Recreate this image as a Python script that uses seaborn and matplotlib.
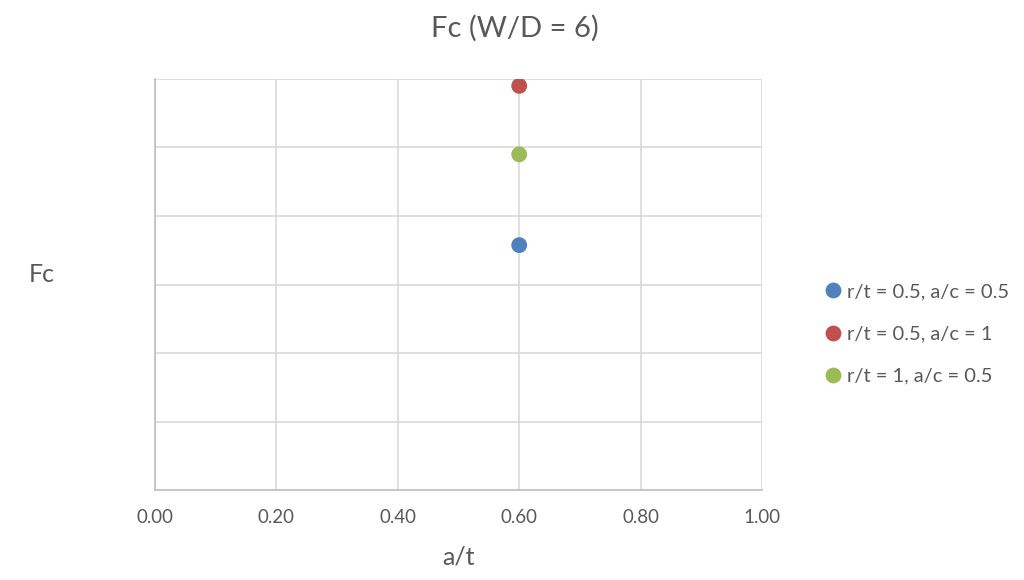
import matplotlib
matplotlib.use("Agg")
import matplotlib.pyplot as plt
import seaborn as sns
import pandas as pd
from matplotlib.ticker import MultipleLocator, FormatStrFormatter

# Data
series = ["r/t = 0.5, a/c = 0.5", "r/t = 0.5, a/c = 1", "r/t = 1, a/c = 0.5"]
a_over_t = [0.60, 0.60, 0.60]
fc_values = [0.715, 1.18, 0.98]
colors = ["#4F81BD", "#C0504D", "#9BBB59"]

df = pd.DataFrame({"a/t": a_over_t, "Fc": fc_values, "series": series})

sns.set_theme(style="white")
plt.rcParams["font.family"] = ["Lato", "DejaVu Sans"]

fig = plt.figure(figsize=(10.24, 5.8), dpi=100)
ax = fig.add_axes([155 / 1024, 1 - 490 / 580, (762 - 155) / 1024, (490 - 79) / 580])

sns.scatterplot(data=df, x="a/t", y="Fc", hue="series", hue_order=series,
                palette=colors, s=130, edgecolor="none", ax=ax, zorder=3,
                legend=True)

ax.set_xlim(0, 1.0)
ax.set_ylim(0, 1.2)
ax.xaxis.set_major_locator(MultipleLocator(0.2))
ax.xaxis.set_major_formatter(FormatStrFormatter("%.2f"))
ax.yaxis.set_major_locator(MultipleLocator(0.2))
ax.set_yticklabels([])
ax.grid(True, color="#D9D9D9", linewidth=1.2)
ax.set_axisbelow(True)

for side in ["top", "right"]:
    ax.spines[side].set_visible(False)
for side in ["left", "bottom"]:
    ax.spines[side].set_color("#BFBFBF")
    ax.spines[side].set_linewidth(1.2)

ax.tick_params(axis="x", labelsize=13.5, colors="#595959", length=0, pad=14)
ax.tick_params(axis="y", length=0)

ax.set_xlabel("a/t", fontsize=18, color="#595959", labelpad=14)
ax.set_ylabel("")
fig.text(42 / 1024, 1 - 275 / 580, "Fc", fontsize=18, color="#595959",
         ha="center", va="center")
fig.text(515 / 1024, 1 - 28 / 580, "Fc (W/D = 6)", fontsize=21, color="#595959",
         ha="center", va="center")

leg = ax.legend(title=None, loc="center left", bbox_to_anchor=(803 / 1024, 1 - 334 / 580),
                bbox_transform=fig.transFigure, frameon=False, fontsize=14.5,
                handletextpad=0.1, labelspacing=1.25, markerscale=1.0,
                handlelength=1.2)
for t in leg.get_texts():
    t.set_color("#595959")

fig.savefig("out.png", dpi=100, facecolor="white")
